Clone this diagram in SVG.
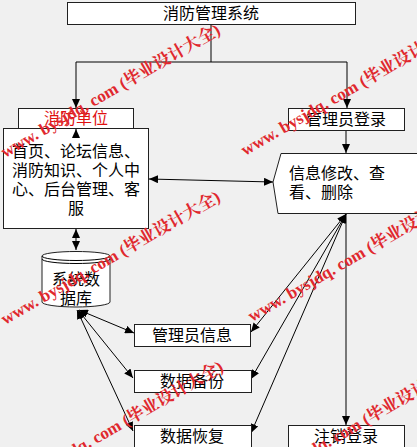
<svg xmlns="http://www.w3.org/2000/svg" width="417" height="447" viewBox="0 0 417 447">
<defs>
<marker id="arr" markerUnits="userSpaceOnUse" markerWidth="10" markerHeight="8" refX="9" refY="4" orient="auto-start-reverse">
<path d="M0,0 L9,4 L0,8 Z" fill="#000"/>
</marker>
</defs>
<style>
.box{fill:#fff;stroke:#202020;stroke-width:1}
.t{font-family:"Noto Sans CJK SC","Liberation Sans",sans-serif;font-size:16px;fill:#000}
.c{text-anchor:middle}
.ln{fill:none;stroke:#000;stroke-width:1}
.wm{font-family:"Liberation Serif","Noto Serif CJK SC","Noto Sans CJK SC",serif;font-size:17px;font-weight:bold;fill:#e0282e}
</style>
<rect width="417" height="447" fill="#f0f0f0"/>
<g id="connectors">
<polyline class="ln" points="211,24 211,62"/>
<polyline class="ln" points="76,62 347,62"/>
<line class="ln" x1="76" y1="62" x2="76" y2="108" marker-end="url(#arr)"/>
<line class="ln" x1="347" y1="62" x2="347" y2="108" marker-end="url(#arr)"/>
<line class="ln" x1="346" y1="131" x2="346" y2="153" marker-end="url(#arr)"/>
<line class="ln" x1="149" y1="179" x2="273" y2="182" marker-start="url(#arr)" marker-end="url(#arr)"/>
<line class="ln" x1="76" y1="229" x2="76" y2="250" marker-start="url(#arr)" marker-end="url(#arr)"/>
<line class="ln" x1="346" y1="213" x2="346" y2="425" marker-end="url(#arr)"/>
<line class="ln" x1="346" y1="214" x2="251" y2="332" marker-start="url(#arr)" marker-end="url(#arr)"/>
<line class="ln" x1="346" y1="214" x2="251" y2="379" marker-start="url(#arr)" marker-end="url(#arr)"/>
<line class="ln" x1="346" y1="214" x2="251" y2="433" marker-start="url(#arr)" marker-end="url(#arr)"/>
<line class="ln" x1="79" y1="310" x2="134" y2="333" marker-start="url(#arr)" marker-end="url(#arr)"/>
<line class="ln" x1="78" y1="310" x2="133" y2="378" marker-start="url(#arr)" marker-end="url(#arr)"/>
<line class="ln" x1="77" y1="310" x2="133" y2="431" marker-start="url(#arr)" marker-end="url(#arr)"/>
</g>
<g id="title">
<rect class="box" x="67.5" y="2.5" width="288" height="22"/>
<text class="t c" x="211" y="19">消防管理系统</text>
</g>
<g id="unit">
<rect class="box" x="18.5" y="108.5" width="115" height="20"/>
<text class="t c" x="76" y="124" style="fill:#e01010">消防单位</text>
</g>
<g id="main">
<rect class="box" x="3.5" y="128.5" width="145" height="100"/>
<text class="t c" x="76" y="157">首页、论坛信息、</text>
<text class="t c" x="76" y="176">消防知识、个人中</text>
<text class="t c" x="76" y="195">心、后台管理、客</text>
<text class="t c" x="76" y="214">服</text>
</g>
<line class="ln" x1="76" y1="137" x2="76" y2="129" marker-end="url(#arr)"/>
<g id="db">
<path class="box" d="M42,256 A34,4.5 0 0,1 110,256 L110,302 A34,5 0 0,1 42,302 Z"/>
<path class="ln" d="M42,256 A34,4.5 0 0,0 110,256"/>
<path class="ln" d="M42,259 A34,4.5 0 0,0 110,259"/>
<text class="t c" x="76" y="285">系统数</text>
<text class="t c" x="76" y="304">据库</text>
</g>
<g id="adminlogin">
<rect class="box" x="288.5" y="108.5" width="116" height="22"/>
<text class="t c" x="346" y="125">管理员登录</text>
</g>
<g id="edit">
<path class="box" d="M281,153.5 L420,153.5 L420,213.5 L278,213.5 L273,182 Z"/>
<text class="t" x="289" y="179">信息修改、查</text>
<text class="t" x="289" y="198">看、删除</text>
</g>
<g id="admininfo">
<rect class="box" x="134.5" y="324.5" width="116" height="22"/>
<text class="t c" x="192" y="341">管理员信息</text>
</g>
<g id="backup">
<rect class="box" x="134.5" y="370.5" width="117" height="22"/>
<text class="t c" x="192" y="387">数据备份</text>
</g>
<g id="restore">
<rect class="box" x="134.5" y="425.5" width="117" height="30"/>
<text class="t c" x="192" y="442">数据恢复</text>
</g>
<g id="logout">
<rect class="box" x="288.5" y="425.5" width="116" height="30"/>
<text class="t c" x="346" y="442">注销登录</text>
</g>
<g id="watermark">
<text class="wm" transform="translate(5,158) rotate(-30)">www. bysjdq. com (毕业设计大全)</text>
<text class="wm" transform="translate(245,156) rotate(-30)">www. bysjdq. com (毕业设计大全)</text>
<text class="wm" transform="translate(5,325) rotate(-30)">www. bysjdq. com (毕业设计大全)</text>
<text class="wm" transform="translate(252,322) rotate(-30)">www. bysjdq. com (毕业设计大全)</text>
<text class="wm" transform="translate(8,495) rotate(-30)">www. bysjdq. com (毕业设计大全)</text>
<text class="wm" transform="translate(248,494) rotate(-30)">www. bysjdq. com (毕业设计大全)</text>
</g>
</svg>
